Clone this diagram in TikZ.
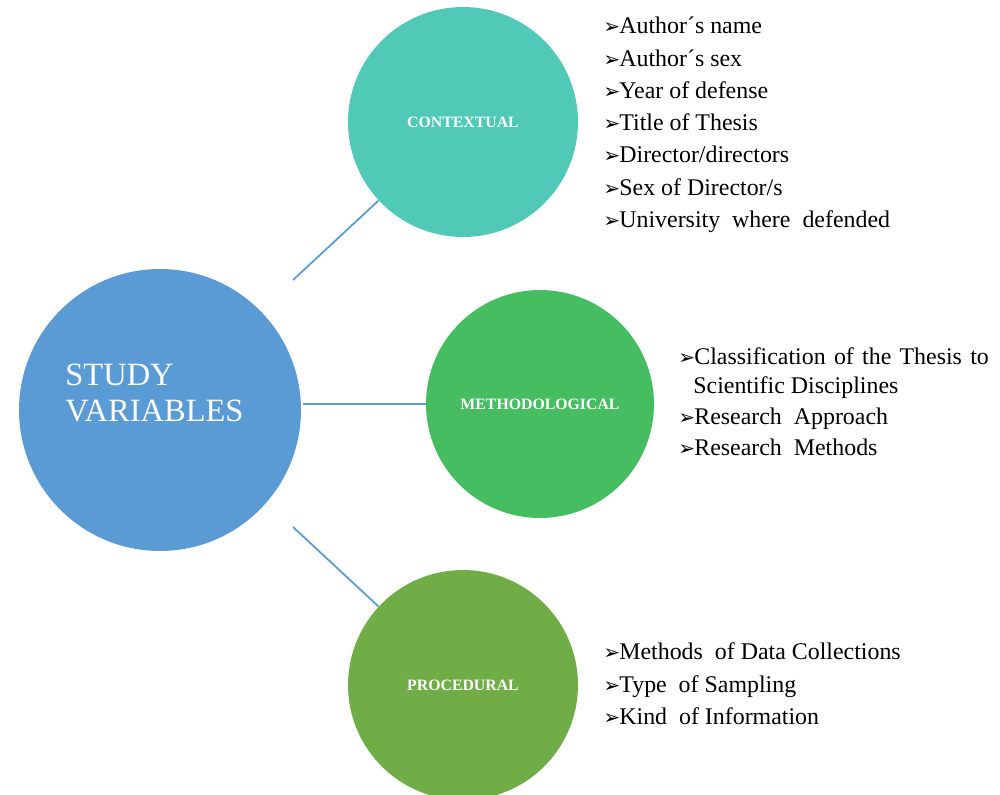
\documentclass[tikz,border=0pt]{standalone}
\usepackage{fontspec}
\setmainfont{Liberation Serif}
\newfontfamily\symfont{DejaVu Sans}
\newcommand{\bul}{\makebox[0.32cm][l]{\symfont\fontsize{11.5}{14}\selectfont ➢}}
\newcommand{\wsp}{\ \hspace{1.3pt}}
\definecolor{cblue}{RGB}{91,155,213}
\definecolor{cteal}{RGB}{80,201,182}
\definecolor{cgreen}{RGB}{71,189,98}
\definecolor{colive}{RGB}{112,173,71}
\definecolor{clink}{RGB}{91,155,213}
\begin{document}
\begin{tikzpicture}[x=0.02cm,y=-0.02cm,
  circ/.style={circle, inner sep=0pt, text=white, font=\bfseries\fontsize{9}{11}\selectfont},
  item/.style={anchor=base west, inner sep=0pt, font=\fontsize{13.6}{16}\selectfont},
  link/.style={draw=clink, line width=1pt}]
\useasboundingbox (0,0) rectangle (1000,794);
\clip (0,0) rectangle (1000,794);
\fill[white] (0,0) rectangle (1000,794);
% circles
\node[circ, fill=cblue, minimum size=5.64cm] (big) at (160,410) {};
\node[anchor=west, text=white, align=left, inner sep=0pt, font=\fontsize{18.5}{21}\selectfont] (bigtxt) at (65,393) {STUDY\\VARIABLES};
\node[circ, fill=cteal, minimum size=4.6cm] (ctx) at (463,122) {CONTEXTUAL};
\node[circ, fill=cgreen, minimum size=4.56cm] (meth) at (540,404) {METHODOLOGICAL};
\node[circ, fill=colive, minimum size=4.6cm] (proc) at (463,685) {PROCEDURAL};
% connectors
\coordinate (s1) at (293,280);
\coordinate (s2) at (303,404);
\coordinate (s3) at (293,527);
\draw[link] (s1) -- (ctx);
\draw[link] (s2) -- (meth.west);
\draw[link] (s3) -- (proc);
% contextual list
\node[item] (c1) at (603,34) {\bul Author´s name};
\node[item] (c2) at (603,66.2) {\bul Author´s sex};
\node[item] (c3) at (603,98.4) {\bul Year of defense};
\node[item] (c4) at (603,130.6) {\bul Title of Thesis};
\node[item] (c5) at (603,162.8) {\bul Director/directors};
\node[item] (c6) at (603,195) {\bul Sex of Director/s};
\node[item] (c7) at (603,227.2) {\bul University\ \ where\ \ defended};
% methodological list
\node[item] (m1) at (678,364) {\bul Classification\wsp of\wsp the\wsp Thesis\wsp to};
\node[item] (m1b) at (693,393) {Scientific Disciplines};
\node[item] (m2) at (678,424) {\bul Research\ \ Approach};
\node[item] (m3) at (678,455) {\bul Research\ \ Methods};
% procedural list
\node[item] (p1) at (603,659) {\bul Methods\ \ of Data Collections};
\node[item] (p2) at (603,692) {\bul Type\ \ of Sampling};
\node[item] (p3) at (603,724) {\bul Kind\ \ of Information};
\end{tikzpicture}
\end{document}
